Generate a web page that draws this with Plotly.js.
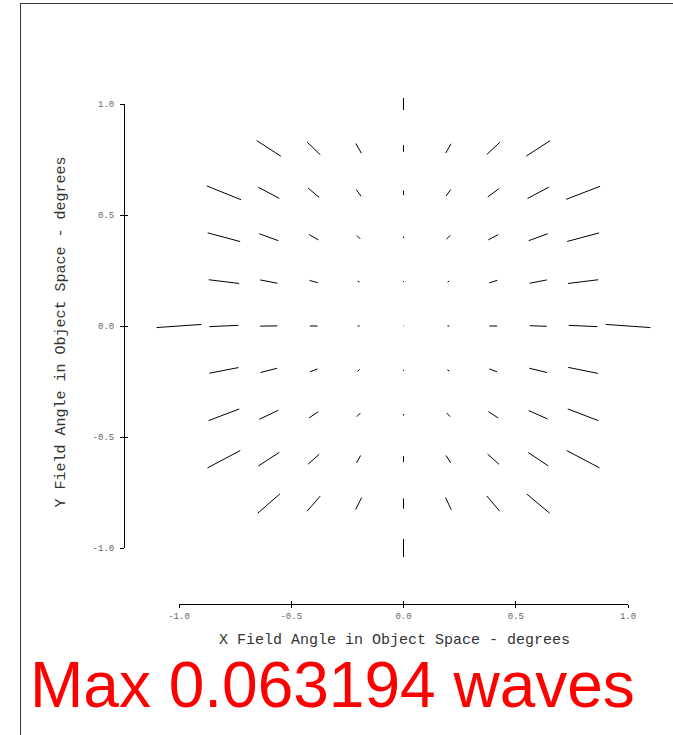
<!DOCTYPE html>
<html>
<head>
<meta charset="utf-8">
<script src="https://cdn.plot.ly/plotly-3.0.1.min.js"></script>
<style>
  html, body { margin: 0; padding: 0; background: #fff; }
  #wrap { position: relative; width: 673px; height: 735px; overflow: hidden; }
  #chart { position: absolute; left: 0; top: 0; width: 673px; height: 735px; }
  #frame { position: absolute; left: 20px; top: 3px; width: 660px; height: 740px;
           border-left: 1px solid #3a3a3a; border-top: 1px solid #3a3a3a; pointer-events: none; }
</style>
</head>
<body>
<div id="wrap">
  <div id="chart"></div>
  <div id="frame"></div>
</div>
<script>
// ---- Field points (degrees) and astigmatism (waves, orientation in degrees) ----
// Rows from top (y = 1.0) to bottom (y = -1.0)
const fieldX = [
  0,
  -0.6, -0.4, -0.2, 0, 0.2, 0.4, 0.6,
  -0.8, -0.6, -0.4, -0.2, 0, 0.2, 0.4, 0.6, 0.8,
  -0.8, -0.6, -0.4, -0.2, 0, 0.2, 0.4, 0.6, 0.8,
  -0.8, -0.6, -0.4, -0.2, 0, 0.2, 0.4, 0.6, 0.8,
  -1.0, -0.8, -0.6, -0.4, -0.2, 0, 0.2, 0.4, 0.6, 0.8, 1.0,
  -0.8, -0.6, -0.4, -0.2, 0, 0.2, 0.4, 0.6, 0.8,
  -0.8, -0.6, -0.4, -0.2, 0, 0.2, 0.4, 0.6, 0.8,
  -0.8, -0.6, -0.4, -0.2, 0, 0.2, 0.4, 0.6, 0.8,
  -0.6, -0.4, -0.2, 0, 0.2, 0.4, 0.6,
  0
];
const fieldY = [
  1.0,
  0.8, 0.8, 0.8, 0.8, 0.8, 0.8, 0.8,
  0.6, 0.6, 0.6, 0.6, 0.6, 0.6, 0.6, 0.6, 0.6,
  0.4, 0.4, 0.4, 0.4, 0.4, 0.4, 0.4, 0.4, 0.4,
  0.2, 0.2, 0.2, 0.2, 0.2, 0.2, 0.2, 0.2, 0.2,
  0, 0, 0, 0, 0, 0, 0, 0, 0, 0, 0,
  -0.2, -0.2, -0.2, -0.2, -0.2, -0.2, -0.2, -0.2, -0.2,
  -0.4, -0.4, -0.4, -0.4, -0.4, -0.4, -0.4, -0.4, -0.4,
  -0.6, -0.6, -0.6, -0.6, -0.6, -0.6, -0.6, -0.6, -0.6,
  -0.8, -0.8, -0.8, -0.8, -0.8, -0.8, -0.8,
  -1.0
];
const astigWaves = [
  0.0169,
  0.0405, 0.0260, 0.0159, 0.0095, 0.0151, 0.0252, 0.0398,
  0.0518, 0.0336, 0.0206, 0.0116, 0.0066, 0.0111, 0.0195, 0.0340, 0.0513,
  0.0473, 0.0285, 0.0151, 0.0066, 0.0021, 0.0076, 0.0159, 0.0285, 0.0466,
  0.0430, 0.0248, 0.0121, 0.0028, 0.0014, 0.0028, 0.0118, 0.0248, 0.0430,
  0.0631, 0.0409, 0.0240, 0.0109, 0.0028, 0.0007, 0.0028, 0.0109, 0.0240, 0.0405, 0.063194,
  0.0418, 0.0243, 0.0116, 0.0037, 0.0014, 0.0034, 0.0120, 0.0257, 0.0427,
  0.0463, 0.0296, 0.0158, 0.0073, 0.0021, 0.0073, 0.0164, 0.0289, 0.0463,
  0.0522, 0.0353, 0.0210, 0.0118, 0.0085, 0.0123, 0.0216, 0.0339, 0.0522,
  0.0416, 0.0279, 0.0189, 0.0144, 0.0192, 0.0278, 0.0418,
  0.0254
];
const angleDeg = [
  90,
  -33, -44, -60, 90, 60, 43, 33,
  -22, -28, -40, -55, 90, 54, 37, 28, 21,
  -15, -20, -30, -45, 90, 43, 28, 20, 15,
  -7, -11, -16, -30, 0, 35, 18, 11, 7,
  4, 2.5, 1, 0, 0, 0, 0, 0, -2, -2.5, -4,
  11, 14.5, 21, 40, 0, -33, -20.6, -13.7, -11.4,
  20.8, 25.3, 34, 45, 90, -45, -33, -24, -20.8,
  27.9, 33, 42, 61, 90, -57.5, -42, -33.7, -27.9,
  41, 49, 63.4, 90, -65, -49.8, -40,
  90
];
const maxWaves = 0.063194;
const tickValues = [-1.0, -0.5, 0.0, 0.5, 1.0];
const tickLabels = ['-1.0', '-0.5', '0.0', '0.5', '1.0'];
const xTitle = 'X Field Angle in Object Space - degrees';
const yTitle = 'Y Field Angle in Object Space - degrees';
const maxLabel = 'Max ' + maxWaves + ' waves';

// ---- Layout geometry (pixels) ----
const W = 673, H = 735;
const PL = 124, PR = 661, PT = 60, PB = 604;           // plot area
const XM1 = 179, XP1 = 628, YP1 = 104, YM1 = 548;       // pixel positions of -1 / +1
const pxX = (XP1 - XM1) / 2, pxY = (YM1 - YP1) / 2;
const pw = PR - PL, ph = PB - PT;
const xRange = [-1 - (XM1 - PL) / pxX, 1 + (PR - XP1) / pxX];
const yRange = [-1 - (PB - YM1) / pxY, 1 + (YP1 - PT) / pxY];
const xDom = [(XM1 - PL) / pw, (XP1 - PL) / pw];
const yDom = [(PB - YM1) / ph, (PB - YP1) / ph];
const xTitleShift = -9 / pw;   // title sits a little left of axis centre
const yTitleShift = -6 / ph;   // and a little below
const gridStep = 0.2;

// ---- Build segments ----
const segX = [], segY = [];
for (let i = 0; i < fieldX.length; i++) {
  const half = (astigWaves[i] / maxWaves) * gridStep / 2;
  const a = angleDeg[i] * Math.PI / 180;
  const dx = half * Math.cos(a);
  const dy = half * Math.sin(a) * (pxX / pxY);
  segX.push(fieldX[i] - dx, fieldX[i] + dx, null);
  segY.push(fieldY[i] - dy, fieldY[i] + dy, null);
}

const mono = 'Liberation Mono, Courier New, monospace';

const traces = [
  { type: 'scatter', mode: 'lines', x: segX, y: segY, xaxis: 'x', yaxis: 'y',
    line: { color: '#000', width: 1 }, hoverinfo: 'skip', showlegend: false, connectgaps: false },
  { type: 'scatter', mode: 'lines', x: [], y: [], xaxis: 'x2', yaxis: 'y2', hoverinfo: 'skip', showlegend: false },
  { type: 'scatter', mode: 'lines', x: [], y: [], xaxis: 'x3', yaxis: 'y3', hoverinfo: 'skip', showlegend: false },
  { type: 'scatter', mode: 'lines', x: [], y: [], xaxis: 'x4', yaxis: 'y4', hoverinfo: 'skip', showlegend: false }
];

const hidden = { showgrid: false, zeroline: false, visible: false, fixedrange: true };
const titleOnly = { range: [-1, 1], anchor: 'free', position: 0, showline: false, ticks: '',
  showticklabels: false, showgrid: false, zeroline: false, fixedrange: true };

const layout = {
  width: W, height: H,
  margin: { l: PL, r: W - PR, t: PT, b: H - PB, pad: 0 },
  paper_bgcolor: 'rgba(0,0,0,0)',
  plot_bgcolor: 'rgba(0,0,0,0)',
  showlegend: false,
  xaxis: Object.assign({ domain: [0, 1], range: xRange, anchor: 'y' }, hidden),
  yaxis: Object.assign({ domain: [0, 1], range: yRange, anchor: 'x' }, hidden),
  xaxis2: {
    domain: xDom, range: [-1, 1], anchor: 'free', position: 0,
    showline: true, linecolor: '#000', linewidth: 1,
    ticks: 'outside', ticklen: 3, tickwidth: 1, tickcolor: '#000',
    tickmode: 'array', tickvals: tickValues, ticktext: tickLabels,
    tickfont: { family: mono, size: 9, color: '#666' },
    showgrid: false, zeroline: false, fixedrange: true
  },
  yaxis2: {
    domain: yDom, range: [-1, 1], anchor: 'free', position: 0,
    showline: true, linecolor: '#000', linewidth: 1,
    ticks: 'outside', ticklen: 4, tickwidth: 1, tickcolor: '#000',
    tickmode: 'array', tickvals: tickValues, ticktext: tickLabels,
    ticklabelstandoff: 4,
    tickfont: { family: mono, size: 9, color: '#666' },
    showgrid: false, zeroline: false, fixedrange: true
  },
  xaxis3: {
    domain: xDom, range: [-1, 1], anchor: 'free', position: 0,
    showline: false, ticks: 'inside', ticklen: 3, tickwidth: 1, tickcolor: '#000',
    tickmode: 'array', tickvals: tickValues, showticklabels: false,
    showgrid: false, zeroline: false, fixedrange: true
  },
  yaxis3: {
    domain: yDom, range: [-1, 1], anchor: 'free', position: 0,
    showline: false, ticks: 'inside', ticklen: 3, tickwidth: 1, tickcolor: '#000',
    tickmode: 'array', tickvals: tickValues, showticklabels: false,
    showgrid: false, zeroline: false, fixedrange: true
  },
  xaxis4: Object.assign({}, titleOnly, {
    domain: [xDom[0] + xTitleShift, xDom[1] + xTitleShift],
    title: { text: xTitle, font: { family: mono, size: 15, color: '#333' }, standoff: 29 }
  }),
  yaxis4: Object.assign({}, titleOnly, {
    domain: [yDom[0] + yTitleShift, yDom[1] + yTitleShift],
    title: { text: yTitle, font: { family: mono, size: 15, color: '#333' }, standoff: 53 }
  }),
  annotations: [{
    text: maxLabel, showarrow: false,
    xref: 'paper', yref: 'paper',
    x: (28 - PL) / pw, xanchor: 'left',
    y: (PB - 685) / ph, yanchor: 'middle',
    font: { family: 'Liberation Sans, Arial, sans-serif', size: 64, color: '#ff0000' }
  }]
};

Plotly.newPlot('chart', traces, layout, { staticPlot: true, displayModeBar: false });
</script>
</body>
</html>
